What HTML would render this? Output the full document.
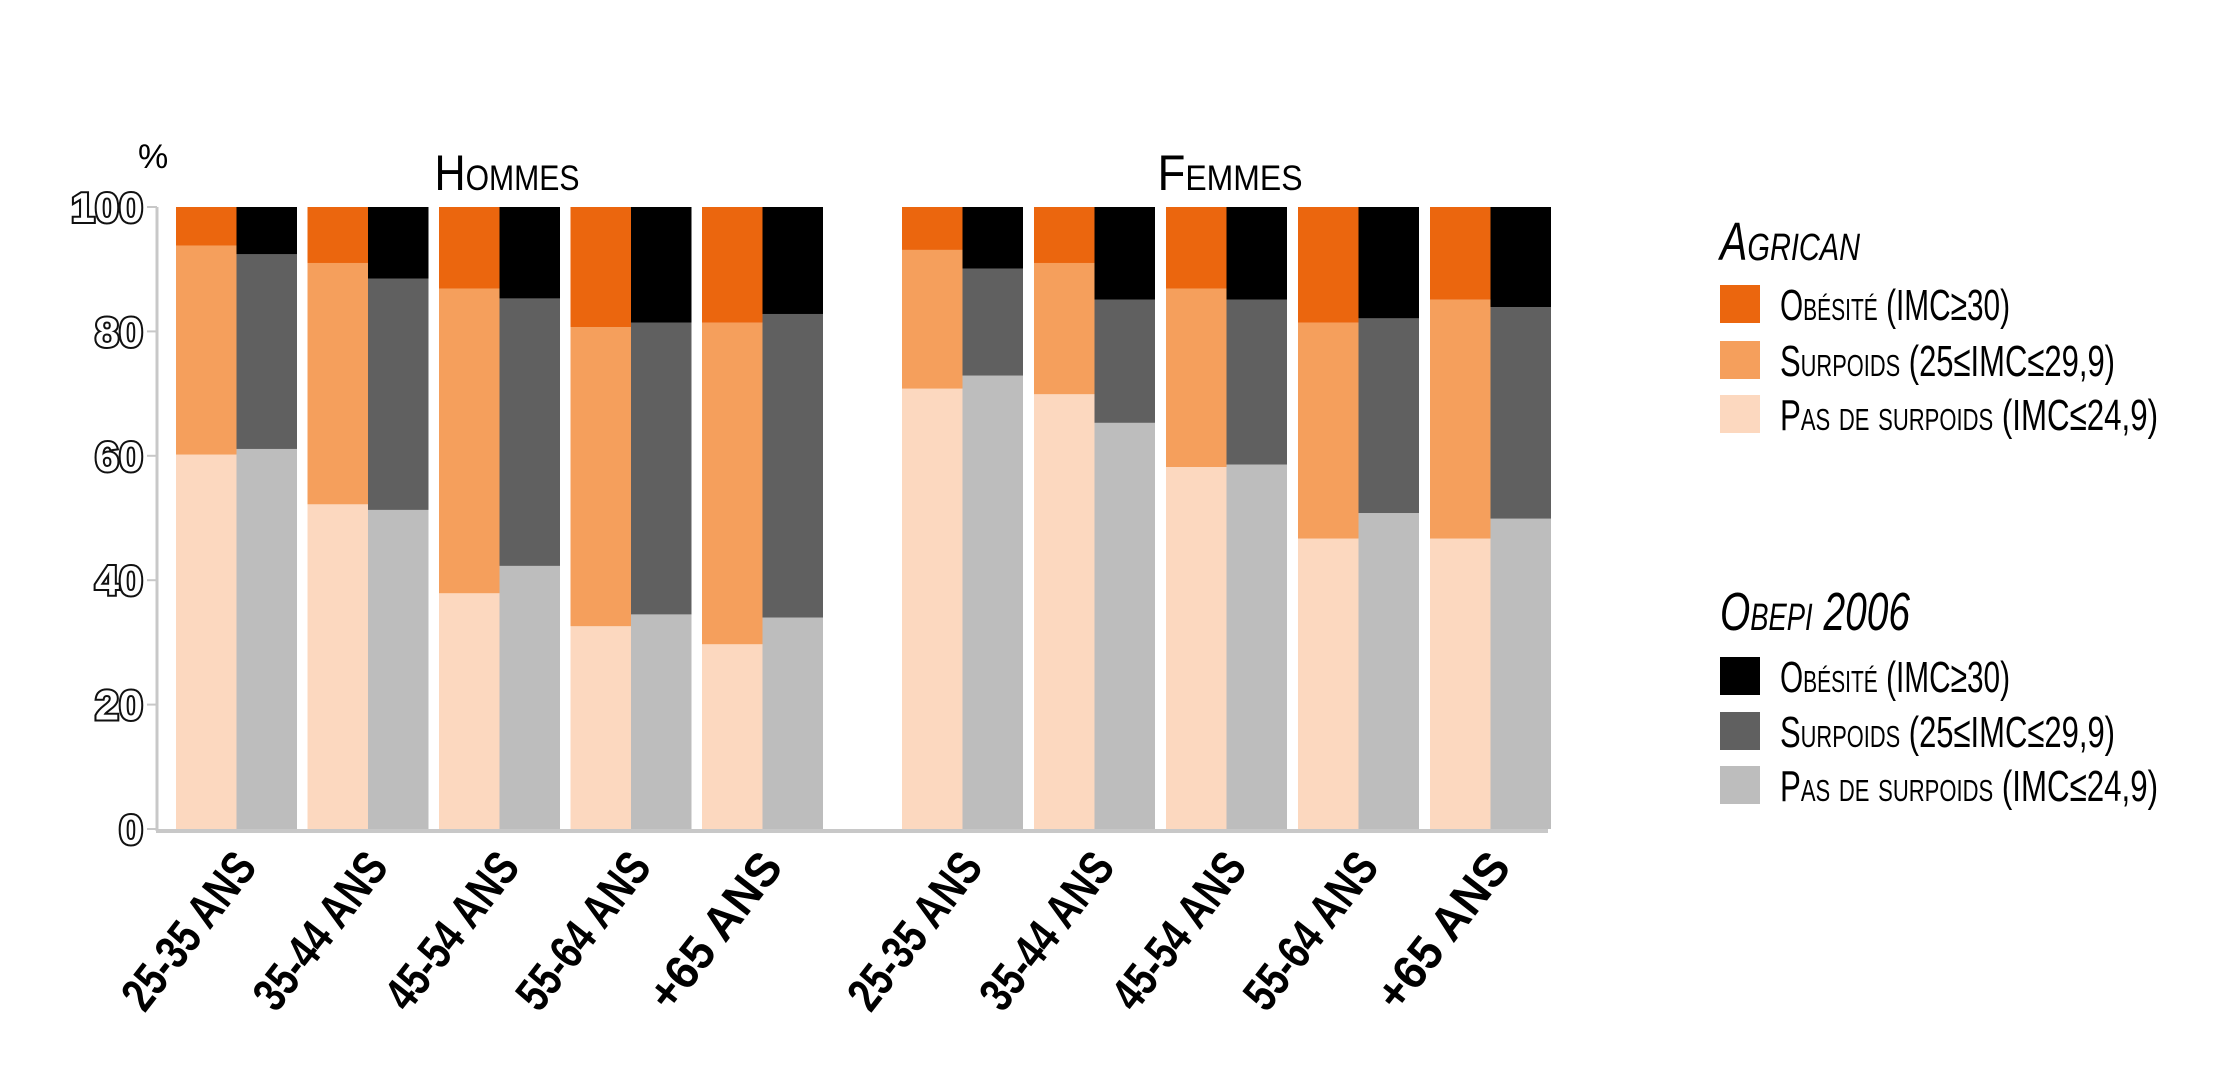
<!DOCTYPE html>
<html><head><meta charset="utf-8"><style>
html,body{margin:0;padding:0;background:#fff;}
svg{display:block;font-family:"Liberation Sans",sans-serif;}
</style></head><body>
<svg id="chart" width="2238" height="1072" viewBox="0 0 2238 1072" xmlns="http://www.w3.org/2000/svg">
<g id="axes"></g>
<g id="bars"></g>
<g id="labels"></g>
<g id="legend"></g>
</svg>
<script>
const categories = ["25-35 ans","35-44 ans","45-54 ans","55-64 ans","+65 ans"];
const groups = ["Hommes","Femmes"];
const agriNormal = [60.2,52.2,37.9,32.6,29.7, 70.8,69.9,58.2,46.7,46.7];
const agriOver   = [33.6,38.8,49.0,48.1,51.7, 22.3,21.1,28.7,34.7,38.4];
const agriObese  = [6.2,9.0,13.1,19.3,18.6, 6.9,9.0,13.1,18.6,14.9];
const obNormal = [61.1,51.3,42.3,34.5,34.0, 72.9,65.3,58.6,50.8,49.9];
const obOver   = [31.3,37.2,43.0,46.9,48.8, 17.2,19.8,26.5,31.3,34.0];
const obObese  = [7.6,11.5,14.7,18.6,17.2, 9.9,14.9,14.9,17.9,16.1];
const yTicks = [0,20,40,60,80,100];

const NS="http://www.w3.org/2000/svg";
function mk(tag,attrs,parent){const e=document.createElementNS(NS,tag);for(const k in attrs)e.setAttribute(k,attrs[k]);parent.appendChild(e);return e;}
const y0=829, y100=207;
function yScale(v){return y0-(y0-y100)*v/100;}
const pairW=121, barW=60.5;
function pairX(i){return i<5 ? 176+i*131.5 : 902+(i-5)*132;}

const axes=document.getElementById('axes');
const ax=mk('line',{x1:157,y1:207,x2:157,y2:831,stroke:'#c8c8c8','stroke-width':3},axes);

const bx=mk('line',{x1:156,y1:831,x2:1548,y2:831,stroke:'#c8c8c8','stroke-width':4},axes);

yTicks.forEach(t=>{
  const y=yScale(t);
  const tk=mk('line',{x1:147,y1:y,x2:157,y2:y,stroke:'#c8c8c8','stroke-width':2},axes);
  
  const tx=mk('text',{x:143,y:y+15,'text-anchor':'end','font-size':42,'font-weight':'bold',fill:'#fff',stroke:'#111','stroke-width':4,'paint-order':'stroke',textLength:String(t).length*24,lengthAdjust:'spacingAndGlyphs'},axes);
  tx.textContent=t;
  
});
const pct=mk('text',{x:138,y:168,'font-size':34,fill:'#000'},axes);
pct.textContent='%';


const bars=document.getElementById('bars');
function seg(x,b,h,col,name){
  const r=mk('rect',{x:x,y:yScale(b+h),width:barW,height:yScale(b)-yScale(b+h),fill:col},bars);
  
}
for(let i=0;i<10;i++){
  const x=pairX(i);
  seg(x,0,agriNormal[i],'#fcd8bf','agrican-normal-bar');
  seg(x,agriNormal[i],agriOver[i],'#f59f5c','agrican-overweight-bar');
  seg(x,agriNormal[i]+agriOver[i],agriObese[i],'#eb660e','agrican-obesity-bar');
  seg(x+barW,0,obNormal[i],'#bdbdbd','obepi-normal-bar');
  seg(x+barW,obNormal[i],obOver[i],'#606060','obepi-overweight-bar');
  seg(x+barW,obNormal[i]+obOver[i],obObese[i],'#000000','obepi-obesity-bar');
}

const labels=document.getElementById('labels');
for(let i=0;i<10;i++){
  const cx=pairX(i)+pairW/2+22, cy=868;
  const t=mk('text',{x:cx,y:cy,'text-anchor':'end','font-size':48,'font-weight':'bold',fill:'#000',textLength:185,lengthAdjust:'spacingAndGlyphs',transform:`rotate(-52 ${cx} ${cy})`},labels);
  t.textContent=categories[i%5].toUpperCase();
  
}
[[507,'Hommes'],[1230,'Femmes']].forEach(([x,g])=>{
  const t=mk('text',{x:x,y:190,'text-anchor':'middle','font-size':50,fill:'#000','font-variant':'small-caps',textLength:145,lengthAdjust:'spacingAndGlyphs'},labels);
  t.textContent=g;
  
});

const legend=document.getElementById('legend');
const legs=[
  {title:'Agrican',ty:260,tl:140,items:[['#eb660e','Obésité (IMC≥30)',230],['#f59f5c','Surpoids (25≤IMC≤29,9)',335],['#fcd8bf','Pas de surpoids (IMC≤24,9)',378]],y:[285,341,395]},
  {title:'Obepi 2006',ty:630,tl:190,items:[['#000','Obésité (IMC≥30)',230],['#606060','Surpoids (25≤IMC≤29,9)',335],['#bdbdbd','Pas de surpoids (IMC≤24,9)',378]],y:[657,712,766]}
];
legs.forEach(L=>{
  const t=mk('text',{x:1720,y:L.ty,'font-size':54,'font-style':'italic','font-variant':'small-caps',fill:'#000',textLength:L.tl,lengthAdjust:'spacingAndGlyphs'},legend);
  t.textContent=L.title;
  
  L.items.forEach((it,k)=>{
    const r=mk('rect',{x:1720,y:L.y[k],width:40,height:38,fill:it[0]},legend);
    
    const tx=mk('text',{x:1780,y:L.y[k]+35,'font-size':44,'font-variant':'small-caps',fill:'#000',textLength:it[2],lengthAdjust:'spacingAndGlyphs'},legend);
    tx.textContent=it[1];
    
  });
});
</script>
</body></html>
